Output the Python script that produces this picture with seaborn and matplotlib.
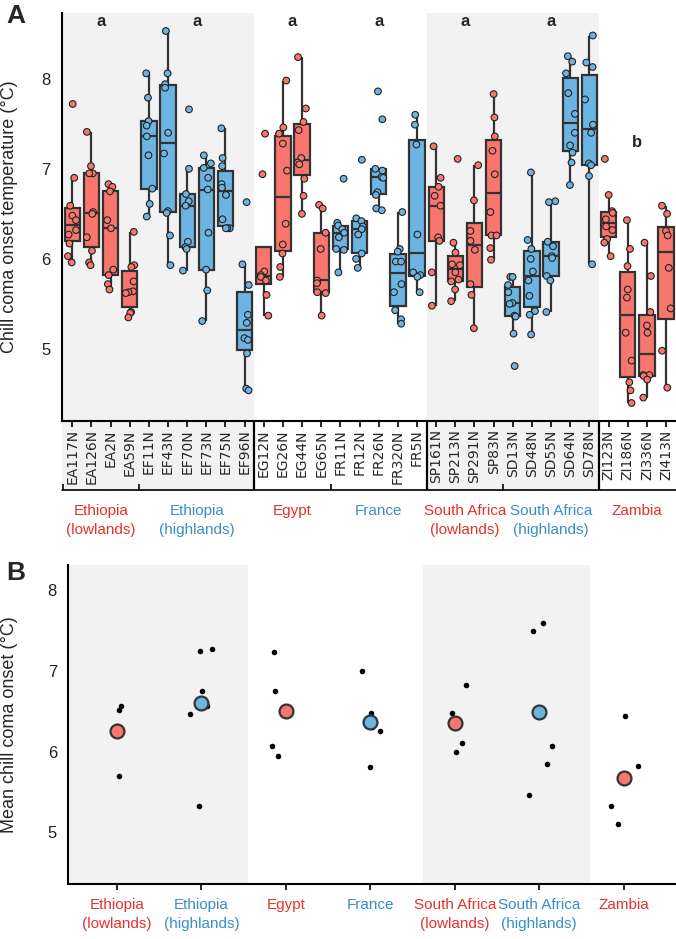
import numpy as np
import pandas as pd
import matplotlib.pyplot as plt
import seaborn as sns

sns.set_style("white")
plt.rcParams['font.family'] = ['Liberation Sans', 'DejaVu Sans']

# ---- panel A: chill coma onset per line ----
ea_lines = ["EA117N", "EA126N", "EA2N", "EA59N"]
ea_vals = [[7.72, 6.90, 6.59, 6.48, 6.43, 6.32, 6.27, 6.17, 6.03, 5.96],
           [7.41, 7.03, 6.95, 6.95, 6.52, 6.50, 6.24, 6.09, 5.96, 5.93],
           [6.83, 6.80, 6.75, 6.43, 6.34, 5.88, 5.82, 5.72, 5.66],
           [6.30, 5.93, 5.91, 5.75, 5.64, 5.63, 5.62, 5.41, 5.40, 5.35]]
ef_lines = ["EF11N", "EF43N", "EF70N", "EF73N", "EF75N", "EF96N"]
ef_vals = [[8.06, 7.79, 7.53, 7.48, 7.36, 7.15, 6.78, 6.61, 6.47],
           [8.53, 8.06, 7.94, 7.90, 7.40, 7.17, 6.53, 6.51, 6.26, 5.93],
           [7.66, 7.00, 6.72, 6.64, 6.59, 6.19, 6.13, 6.11, 5.87],
           [7.15, 7.06, 7.01, 6.90, 6.77, 6.29, 5.88, 5.65, 5.31],
           [7.45, 7.12, 7.03, 6.83, 6.79, 6.71, 6.44, 6.34, 6.34, 6.34],
           [6.63, 5.94, 5.71, 5.38, 5.29, 5.12, 5.10, 4.95, 4.56, 4.54]]
eg_lines = ["EG12N", "EG26N", "EG44N", "EG65N"]
eg_vals = [[7.39, 6.94, 5.86, 5.82, 5.80, 5.76, 5.60, 5.37],
           [7.98, 7.46, 7.39, 7.28, 6.98, 6.39, 6.16, 6.06, 5.91, 5.80],
           [8.24, 7.67, 7.52, 7.43, 7.12, 7.07, 7.05, 6.89, 6.70, 6.50],
           [6.60, 6.56, 6.29, 6.11, 5.76, 5.73, 5.63, 5.62, 5.37]]
fr_lines = ["FR11N", "FR12N", "FR26N", "FR320N", "FR5N"]
fr_vals = [[6.89, 6.40, 6.37, 6.33, 6.29, 6.24, 6.11, 6.10, 5.85],
           [7.10, 6.45, 6.42, 6.36, 6.33, 6.27, 6.06, 6.00, 5.90],
           [7.86, 7.55, 7.00, 6.98, 6.91, 6.90, 6.74, 6.71, 6.56, 6.54],
           [6.52, 6.11, 6.08, 5.97, 5.97, 5.72, 5.63, 5.43, 5.33, 5.28],
           [7.60, 7.49, 7.27, 6.27, 5.85, 5.82, 5.80, 5.63]]
sp_lines = ["SP161N", "SP213N", "SP291N", "SP83N"]
sp_vals = [[7.25, 6.90, 6.80, 6.70, 6.59, 6.24, 6.20, 5.85, 5.48],
           [7.11, 6.18, 6.07, 5.94, 5.93, 5.85, 5.77, 5.75, 5.66, 5.53],
           [7.04, 6.65, 6.31, 6.20, 6.10, 5.72, 5.60, 5.23],
           [7.83, 7.57, 7.36, 7.20, 6.94, 6.52, 6.26, 6.26, 6.12, 5.99]]
sd_lines = ["SD13N", "SD48N", "SD55N", "SD64N", "SD78N"]
sd_vals = [[5.80, 5.80, 5.71, 5.63, 5.51, 5.50, 5.37, 5.36, 5.17, 4.81],
           [6.96, 6.21, 6.11, 6.00, 5.86, 5.76, 5.59, 5.42, 5.38, 5.16],
           [6.64, 6.63, 6.19, 6.14, 6.03, 6.01, 5.81, 5.76, 5.41],
           [8.25, 8.19, 8.06, 7.84, 7.61, 7.40, 7.26, 7.18, 7.07, 6.82],
           [8.48, 8.18, 8.13, 7.77, 7.49, 7.40, 7.06, 7.04, 6.92, 5.94]]
zi_lines = ["ZI123N", "ZI186N", "ZI336N", "ZI413N"]
zi_vals = [[7.11, 6.71, 6.53, 6.51, 6.44, 6.36, 6.32, 6.22, 6.18, 6.03],
           [6.43, 6.11, 5.92, 5.66, 5.57, 5.18, 4.87, 4.63, 4.54, 4.40],
           [6.18, 5.81, 5.41, 5.26, 5.18, 4.71, 4.71, 4.70, 4.66, 4.46],
           [6.59, 6.50, 6.31, 6.26, 5.90, 5.45, 4.98, 4.57]]

# ---- panel B: line means per population ----
pops = ["Ethiopia\n(lowlands)", "Ethiopia\n(highlands)", "Egypt", "France",
        "South Africa\n(lowlands)", "South Africa\n(highlands)", "Zambia"]
pop_kind = ["red", "blue", "red", "blue", "red", "blue", "red"]
letters = ["a", "a", "a", "a", "a", "a", "b"]
b_ea = [6.52, 6.57, 6.25, 5.70]
b_ef = [7.27, 7.24, 6.75, 6.57, 6.46, 5.32]
b_eg = [7.23, 6.75, 6.07, 5.95]
b_fr = [7.00, 6.475, 6.31, 6.25, 5.81]
b_sp = [6.82, 6.475, 6.11, 5.99]
b_sd = [7.59, 7.49, 6.07, 5.84, 5.46]
b_zi = [6.44, 5.82, 5.325, 5.10]

fill = {"red": "#F8766D", "blue": "#6CB4E2"}
txt = {"red": "#E5322A", "blue": "#3A8DC9"}
edge = "#333333"
bg = "#F2F2F2"

groups_lines = [ea_lines, ef_lines, eg_lines, fr_lines, sp_lines, sd_lines, zi_lines]
groups_vals = [ea_vals, ef_vals, eg_vals, fr_vals, sp_vals, sd_vals, zi_vals]
b_lists = [b_ea, b_ef, b_eg, b_fr, b_sp, b_sd, b_zi]

rows = []
line_pal = {}
for g, (names, vals) in enumerate(zip(groups_lines, groups_vals)):
    for n, v in zip(names, vals):
        line_pal[n] = fill[pop_kind[g]]
        for x in v:
            rows.append((n, x))
dfA = pd.DataFrame(rows, columns=["line", "value"])
order = [n for names in groups_lines for n in names]

dfB = pd.DataFrame([(p, v) for p, vals in zip(pops, b_lists) for v in vals],
                   columns=["pop", "value"])
dfM = pd.DataFrame({"pop": pops, "mean": [np.mean(v) for v in b_lists]})
pop_pal = {p: fill[k] for p, k in zip(pops, pop_kind)}

W, H = 676, 939
def rect(l, t, r, b):
    return [l / W, 1 - b / H, (r - l) / W, (b - t) / H]

fig = plt.figure(figsize=(W / 100, H / 100), dpi=100)
np.random.seed(3)

sizes = [len(n) for n in groups_lines]
ends = np.cumsum(sizes) - 0.5
starts = ends - np.array(sizes)
centers = (starts + ends) / 2
xlimA = (-0.55, 31.52)

# label strip under panel A (gray bands, dividers, bracket)
axL = fig.add_axes(rect(61.7, 421, 676, 490))
axL.set_xlim(*xlimA)
axL.set_ylim(0, 1)
axL.axis("off")
for s, e in [(xlimA[0], ends[1]), (ends[3], ends[5])]:
    axL.axvspan(s, e, color=bg, lw=0, zorder=0)
axL.vlines([ends[1], ends[3], ends[5]], 0, 1, color="black", lw=1.6)
axL.plot(xlimA, [0, 0], color="black", lw=1.2, clip_on=False)
axL.vlines(np.r_[starts[0], ends[:-1]], 0, 0.09, color="black", lw=1.2)
for c, lab, k in zip(centers, pops, pop_kind):
    axL.text(c, -0.2, lab, transform=axL.get_xaxis_transform(), ha="center",
             va="top", color=txt[k], fontsize=11, linespacing=1.45)

# panel A
axA = fig.add_axes(rect(61.7, 13, 676, 421))
for s, e in [(xlimA[0], ends[1]), (ends[3], ends[5])]:
    axA.axvspan(s, e, color=bg, lw=0, zorder=0)
sns.boxplot(data=dfA, x="line", y="value", hue="line", order=order, hue_order=order,
            palette=line_pal, legend=False, saturation=1, width=0.8, linewidth=1.6,
            linecolor=edge, showfliers=False, showcaps=False, ax=axA)
sns.stripplot(data=dfA, x="line", y="value", hue="line", order=order, hue_order=order,
              palette=line_pal, legend=False, jitter=0.25, size=4.8, linewidth=0.8,
              edgecolor="#222222", ax=axA)
axA.set_xlim(*xlimA)
axA.set_ylim(4.2, 8.73)
axA.set_yticks([5, 6, 7, 8])
axA.set_xticks(range(len(order)))
axA.set_xticklabels(order, rotation=90, fontfamily="DejaVu Sans", fontsize=10)
axA.set_xlabel("")
axA.set_ylabel("Chill coma onset temperature (°C)", fontsize=13)
axA.yaxis.set_label_coords(-0.071, 0.5)
for c, l in zip(centers, letters):
    axA.text(c, 7.29 if l == "b" else 8.64, l, ha="center", va="center",
             fontweight="bold", fontsize=12)

# panel B
axB = fig.add_axes(rect(68, 565, 676, 884))
axB.axvspan(-0.58, 1.55, color=bg, lw=0, zorder=0)
axB.axvspan(3.62, 5.6, color=bg, lw=0, zorder=0)
sns.stripplot(data=dfB, x="pop", y="value", order=pops, color="black", jitter=0.17,
              size=4, linewidth=0, ax=axB)
sns.stripplot(data=dfM, x="pop", y="mean", hue="pop", order=pops, hue_order=pops,
              palette=pop_pal, legend=False, jitter=False, size=10, linewidth=1.6,
              edgecolor=edge, ax=axB, zorder=4)
axB.set_xlim(-0.58, 6.62)
axB.set_ylim(4.36, 8.31)
axB.set_yticks([5, 6, 7, 8])
axB.set_xlabel("")
axB.set_ylabel("Mean chill coma onset (°C)", fontsize=13)
axB.yaxis.set_label_coords(-0.082, 0.5)
for lab, k in zip(axB.get_xticklabels(), pop_kind):
    lab.set_color(txt[k])
    lab.set_fontsize(11)
    lab.set_linespacing(1.45)

for ax in (axA, axB):
    for side in ("top", "right"):
        ax.spines[side].set_visible(False)
    for side in ("left", "bottom"):
        ax.spines[side].set_color("black")
        ax.spines[side].set_linewidth(1.5)
    ax.tick_params(axis="y", labelsize=12, length=5, width=1.2, color="black",
                   labelcolor="#222222", pad=3)
    ax.tick_params(axis="x", length=4, width=1.2, color="black", bottom=True, pad=2)
axB.tick_params(axis="x", pad=6)

fig.text(16 / W, 1 - 16 / H, "A", fontsize=19, fontweight="bold", ha="center", va="center")
fig.text(16 / W, 1 - 573 / H, "B", fontsize=19, fontweight="bold", ha="center", va="center")

fig.savefig("out.png", dpi=100)
